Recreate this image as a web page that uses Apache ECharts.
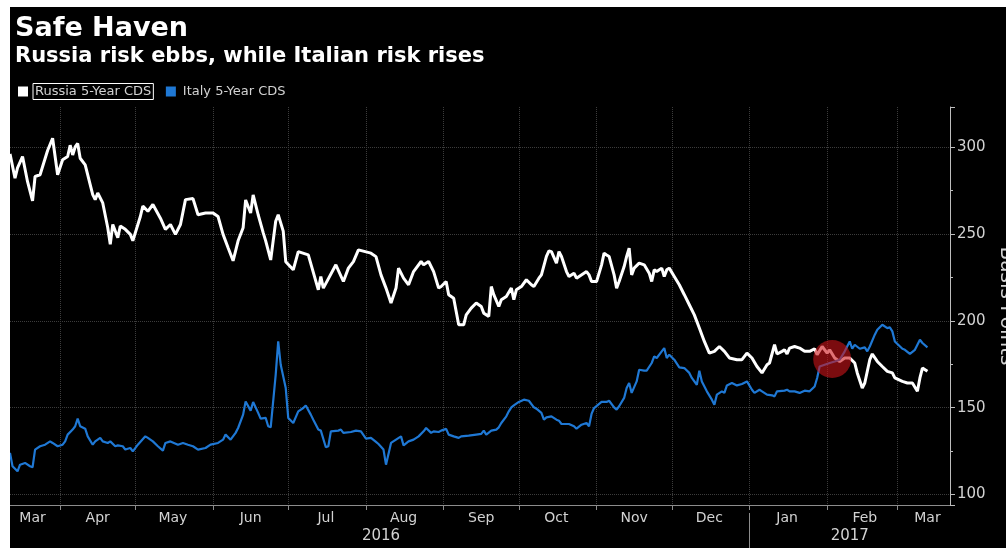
<!DOCTYPE html>
<html>
<head>
<meta charset="utf-8">
<script src="https://cdn.jsdelivr.net/npm/echarts@6/dist/echarts.min.js"></script>
<style>
  html, body { margin: 0; padding: 0; background: #fff; }
  #chart { position: absolute; left: 10px; top: 7px; width: 996px; height: 541px; background: #000; }
</style>
</head>
<body>
<div id="chart"></div>
<script>
// one category per calendar day, first and last day of the visible span
const firstDay = '2016-03-12'
const lastDay = '2017-03-22'

const monthNames = ['Jan', 'Feb', 'Mar', 'Apr', 'May', 'Jun', 'Jul', 'Aug', 'Sep', 'Oct', 'Nov', 'Dec']
// where the month names sit (middle of each visible month)
const monthLabelDays = ['2016-03-21', '2016-04-16', '2016-05-16', '2016-06-16', '2016-07-16', '2016-08-16',
    '2016-09-16', '2016-10-16', '2016-11-16', '2016-12-16', '2017-01-16', '2017-02-16', '2017-03-13']
const yearLabels = ['2016', '2017']
const yearLabelDays = ['2016-08-07', '2017-02-10']
const yearBreakDay = '2017-01-01'

const russia = [
    ['2016-03-12', 296], ['2016-03-14', 282], ['2016-03-15', 288], ['2016-03-17', 294.5], ['2016-03-19', 280],
    ['2016-03-21', 269], ['2016-03-22', 283], ['2016-03-24', 284], ['2016-03-27', 298], ['2016-03-29', 305],
    ['2016-03-31', 284], ['2016-04-02', 292.6], ['2016-04-04', 294.5], ['2016-04-05', 301], ['2016-04-06', 295.4],
    ['2016-04-07', 300], ['2016-04-08', 302], ['2016-04-09', 293.5], ['2016-04-11', 289.7], ['2016-04-14', 272.6],
    ['2016-04-15', 269.7], ['2016-04-16', 273.5], ['2016-04-18', 267.8], ['2016-04-20', 253.5], ['2016-04-21', 244],
    ['2016-04-22', 255.4], ['2016-04-24', 247.8], ['2016-04-25', 254.5], ['2016-04-27', 252.6], ['2016-04-29', 249.7],
    ['2016-04-30', 246], ['2016-05-03', 260], ['2016-05-04', 266], ['2016-05-06', 263], ['2016-05-08', 266.9],
    ['2016-05-11', 259], ['2016-05-13', 252.6], ['2016-05-15', 255.4], ['2016-05-17', 249.7], ['2016-05-19', 255.4],
    ['2016-05-21', 269.7], ['2016-05-24', 270.3], ['2016-05-26', 261], ['2016-05-29', 262], ['2016-06-01', 262],
    ['2016-06-03', 260], ['2016-06-05', 249.7], ['2016-06-07', 242], ['2016-06-09', 234.5], ['2016-06-11', 246],
    ['2016-06-13', 253.5], ['2016-06-14', 269.5], ['2016-06-16', 262], ['2016-06-17', 272.4], ['2016-06-19', 261],
    ['2016-06-21', 250.7], ['2016-06-22', 246], ['2016-06-24', 235], ['2016-06-26', 257.3], ['2016-06-27', 261],
    ['2016-06-29', 251.6], ['2016-06-30', 234], ['2016-07-03', 229.3], ['2016-07-05', 239.8], ['2016-07-09', 237.9],
    ['2016-07-13', 217.8], ['2016-07-14', 225.5], ['2016-07-15', 218.8], ['2016-07-20', 232.2], ['2016-07-23', 222.6],
    ['2016-07-25', 230.3], ['2016-07-27', 234], ['2016-07-29', 240.8], ['2016-08-03', 238.9], ['2016-08-05', 236.9],
    ['2016-08-07', 226.4], ['2016-08-09', 218.8], ['2016-08-11', 210.2], ['2016-08-13', 218.8], ['2016-08-14', 230.3],
    ['2016-08-16', 224.5], ['2016-08-18', 220.7], ['2016-08-20', 228.3], ['2016-08-23', 234.1], ['2016-08-24', 232.2],
    ['2016-08-26', 234.1], ['2016-08-28', 228.3], ['2016-08-30', 218.8], ['2016-08-31', 219.7], ['2016-09-02', 222.6],
    ['2016-09-03', 215], ['2016-09-05', 213], ['2016-09-06', 205.3], ['2016-09-07', 197.7], ['2016-09-09', 197.7],
    ['2016-09-10', 203.4], ['2016-09-12', 207.3], ['2016-09-14', 210.2], ['2016-09-16', 208.2], ['2016-09-17', 204.4],
    ['2016-09-19', 202.5], ['2016-09-20', 219.7], ['2016-09-21', 215], ['2016-09-23', 208.2], ['2016-09-24', 212.1],
    ['2016-09-26', 214], ['2016-09-28', 218.8], ['2016-09-29', 212.1], ['2016-09-30', 217.8], ['2016-10-02', 219.7],
    ['2016-10-04', 223.6], ['2016-10-06', 220.7], ['2016-10-07', 219.7], ['2016-10-09', 224.5], ['2016-10-10', 226.4],
    ['2016-10-12', 237], ['2016-10-13', 240.2], ['2016-10-14', 239.8], ['2016-10-16', 233.2], ['2016-10-17', 239.8],
    ['2016-10-18', 237], ['2016-10-20', 228.3], ['2016-10-21', 225.5], ['2016-10-23', 227.4], ['2016-10-24', 224.5],
    ['2016-10-28', 228.3], ['2016-10-29', 226.4], ['2016-10-30', 222.6], ['2016-11-01', 222.6], ['2016-11-03', 232.2],
    ['2016-11-04', 238.9], ['2016-11-05', 237.9], ['2016-11-06', 237], ['2016-11-08', 226.4], ['2016-11-09', 218.8],
    ['2016-11-10', 222.6], ['2016-11-12', 231.2], ['2016-11-13', 237], ['2016-11-14', 241.8], ['2016-11-15', 226.4],
    ['2016-11-16', 230.3], ['2016-11-18', 233.2], ['2016-11-20', 232.2], ['2016-11-22', 227.4], ['2016-11-23', 222.6],
    ['2016-11-24', 229.3], ['2016-11-25', 228.3], ['2016-11-27', 230.3], ['2016-11-28', 225.5], ['2016-11-29', 229.3],
    ['2016-11-30', 230.3], ['2016-12-02', 225.5], ['2016-12-04', 220.7], ['2016-12-06', 215], ['2016-12-08', 209.2],
    ['2016-12-10', 203.4], ['2016-12-12', 195.8], ['2016-12-14', 188.1], ['2016-12-16', 181.4], ['2016-12-18', 182.4],
    ['2016-12-20', 185.2], ['2016-12-22', 182.4], ['2016-12-24', 178.6], ['2016-12-27', 177.6], ['2016-12-29', 177.6],
    ['2016-12-31', 181.4], ['2017-01-02', 178.6], ['2017-01-04', 173.7], ['2017-01-06', 170], ['2017-01-08', 174.7],
    ['2017-01-09', 175.7], ['2017-01-11', 186.2], ['2017-01-12', 180.9], ['2017-01-14', 182.4], ['2017-01-15', 183.3],
    ['2017-01-16', 180.9], ['2017-01-17', 184.3], ['2017-01-19', 185.2], ['2017-01-21', 184.3], ['2017-01-23', 182.4],
    ['2017-01-25', 182.4], ['2017-01-27', 183.9], ['2017-01-28', 180.5], ['2017-01-30', 185.2], ['2017-02-01', 181.4],
    ['2017-02-02', 183.3], ['2017-02-04', 178.6], ['2017-02-06', 176.6], ['2017-02-08', 178.6], ['2017-02-10', 178.6],
    ['2017-02-12', 175.7], ['2017-02-13', 170], ['2017-02-15', 161.3], ['2017-02-16', 164.2], ['2017-02-18', 177.6],
    ['2017-02-19', 180.9], ['2017-02-21', 176.6], ['2017-02-23', 173.7], ['2017-02-25', 170.9], ['2017-02-27', 170],
    ['2017-02-28', 167.1], ['2017-03-03', 165.1], ['2017-03-05', 164.2], ['2017-03-07', 164.2], ['2017-03-09', 159.4],
    ['2017-03-10', 167.1], ['2017-03-11', 172.8], ['2017-03-13', 170.9]
]

const italy = [
    ['2016-03-12', 124], ['2016-03-13', 116.3], ['2016-03-15', 113.4], ['2016-03-16', 117.2], ['2016-03-18', 118.2],
    ['2016-03-20', 116.3], ['2016-03-21', 115.7], ['2016-03-22', 125.9], ['2016-03-24', 127.8], ['2016-03-26', 128.7],
    ['2016-03-28', 130.6], ['2016-03-29', 129.7], ['2016-03-31', 127.8], ['2016-04-02', 128.7], ['2016-04-03', 130.6],
    ['2016-04-04', 134.5], ['2016-04-06', 137.4], ['2016-04-07', 139.3], ['2016-04-08', 143.7], ['2016-04-09', 139.3],
    ['2016-04-11', 137.9], ['2016-04-12', 133.5], ['2016-04-14', 128.7], ['2016-04-15', 130.6], ['2016-04-17', 132.6],
    ['2016-04-18', 130.6], ['2016-04-20', 129.7], ['2016-04-21', 130.6], ['2016-04-23', 127.8], ['2016-04-24', 128.3],
    ['2016-04-26', 127.8], ['2016-04-27', 125.9], ['2016-04-29', 126.8], ['2016-04-30', 124.9], ['2016-05-02', 128.7],
    ['2016-05-05', 133.5], ['2016-05-06', 132.6], ['2016-05-08', 130.6], ['2016-05-10', 127.8], ['2016-05-12', 125.3],
    ['2016-05-13', 129.7], ['2016-05-15', 130.6], ['2016-05-18', 128.7], ['2016-05-20', 129.7], ['2016-05-22', 128.7],
    ['2016-05-24', 127.8], ['2016-05-26', 125.9], ['2016-05-29', 126.8], ['2016-05-31', 128.7], ['2016-06-03', 129.7],
    ['2016-06-05', 131.6], ['2016-06-06', 134.5], ['2016-06-08', 131.6], ['2016-06-10', 135.5], ['2016-06-11', 138.3],
    ['2016-06-13', 146], ['2016-06-14', 153.6], ['2016-06-16', 148.3], ['2016-06-17', 153.3], ['2016-06-19', 147],
    ['2016-06-20', 143.7], ['2016-06-22', 144.1], ['2016-06-23', 139.3], ['2016-06-24', 138.7], ['2016-06-26', 169],
    ['2016-06-27', 188.1], ['2016-06-28', 174.7], ['2016-06-30', 161.3], ['2016-07-01', 144.1], ['2016-07-03', 141.2],
    ['2016-07-05', 147.9], ['2016-07-07', 149.8], ['2016-07-08', 151.3], ['2016-07-10', 146], ['2016-07-11', 143.1],
    ['2016-07-13', 137.4], ['2016-07-14', 136.8], ['2016-07-16', 127.2], ['2016-07-17', 127.8], ['2016-07-18', 136.4],
    ['2016-07-21', 136.8], ['2016-07-22', 137.4], ['2016-07-23', 135.5], ['2016-07-26', 136], ['2016-07-28', 136.8],
    ['2016-07-30', 136.4], ['2016-08-01', 132.2], ['2016-08-03', 132.6], ['2016-08-05', 130.3], ['2016-08-06', 129.1],
    ['2016-08-08', 125.9], ['2016-08-09', 117.2], ['2016-08-11', 129.7], ['2016-08-13', 131.6], ['2016-08-15', 133.5],
    ['2016-08-16', 128.3], ['2016-08-18', 130.6], ['2016-08-20', 131.6], ['2016-08-22', 133.5], ['2016-08-24', 136.4],
    ['2016-08-25', 138.3], ['2016-08-27', 135.5], ['2016-08-28', 136.4], ['2016-08-30', 136], ['2016-08-31', 136.8],
    ['2016-09-02', 137.8], ['2016-09-03', 134.5], ['2016-09-05', 133.5], ['2016-09-07', 132.6], ['2016-09-08', 133.5],
    ['2016-09-11', 133.9], ['2016-09-14', 134.5], ['2016-09-16', 134.9], ['2016-09-17', 136.8], ['2016-09-18', 134.5],
    ['2016-09-20', 136.8], ['2016-09-22', 137.4], ['2016-09-23', 138.7], ['2016-09-24', 141.2], ['2016-09-26', 145],
    ['2016-09-27', 147.9], ['2016-09-28', 150.2], ['2016-09-29', 151.3], ['2016-10-01', 153.3], ['2016-10-03', 154.6],
    ['2016-10-05', 154], ['2016-10-07', 150.2], ['2016-10-08', 149.4], ['2016-10-10', 147], ['2016-10-11', 143.1],
    ['2016-10-12', 144.4], ['2016-10-14', 145], ['2016-10-16', 143.1], ['2016-10-17', 142.5], ['2016-10-18', 140.6],
    ['2016-10-21', 140.6], ['2016-10-23', 139.3], ['2016-10-24', 137.9], ['2016-10-26', 140.2], ['2016-10-28', 141.2],
    ['2016-10-29', 139.3], ['2016-10-30', 146.4], ['2016-10-31', 149.8], ['2016-11-03', 153.3], ['2016-11-05', 153.3],
    ['2016-11-06', 154], ['2016-11-08', 150.2], ['2016-11-09', 148.9], ['2016-11-10', 150.8], ['2016-11-12', 155.6],
    ['2016-11-13', 161.3], ['2016-11-14', 164.2], ['2016-11-15', 158.5], ['2016-11-17', 165.1], ['2016-11-18', 171.8],
    ['2016-11-20', 171.3], ['2016-11-21', 171.3], ['2016-11-23', 175.7], ['2016-11-24', 179.5], ['2016-11-25', 178.6],
    ['2016-11-27', 182.4], ['2016-11-28', 184.3], ['2016-11-29', 178.6], ['2016-11-30', 180.5], ['2016-12-02', 177.6],
    ['2016-12-04', 173.2], ['2016-12-06', 172.8], ['2016-12-08', 170], ['2016-12-09', 167.1], ['2016-12-11', 163.2],
    ['2016-12-12', 171.3], ['2016-12-13', 165.1], ['2016-12-15', 159.4], ['2016-12-17', 154.6], ['2016-12-18', 151.7],
    ['2016-12-19', 157.5], ['2016-12-21', 159.4], ['2016-12-22', 158.5], ['2016-12-23', 162.8], ['2016-12-25', 164.2],
    ['2016-12-27', 162.8], ['2016-12-29', 163.6], ['2016-12-31', 165.1], ['2017-01-02', 160.3], ['2017-01-03', 158.5],
    ['2017-01-05', 160.3], ['2017-01-06', 159.4], ['2017-01-08', 157.5], ['2017-01-10', 157.1], ['2017-01-11', 156.5],
    ['2017-01-12', 159.4], ['2017-01-15', 159.8], ['2017-01-16', 160.3], ['2017-01-17', 159.4], ['2017-01-19', 159.4],
    ['2017-01-21', 158.5], ['2017-01-23', 159.8], ['2017-01-25', 159.4], ['2017-01-27', 162.2], ['2017-01-28', 167.1],
    ['2017-01-29', 173.7], ['2017-02-02', 175.7], ['2017-02-04', 176.6], ['2017-02-06', 177.6], ['2017-02-08', 182.4],
    ['2017-02-10', 188.1], ['2017-02-11', 183.9], ['2017-02-12', 186.2], ['2017-02-14', 183.9], ['2017-02-16', 184.7],
    ['2017-02-17', 182.4], ['2017-02-18', 185.2], ['2017-02-20', 192], ['2017-02-21', 194.8], ['2017-02-23', 197.7],
    ['2017-02-25', 195.8], ['2017-02-26', 196.2], ['2017-02-27', 193.9], ['2017-02-28', 188.1], ['2017-03-03', 183.9],
    ['2017-03-04', 183.3], ['2017-03-06', 180.9], ['2017-03-08', 183.3], ['2017-03-10', 189.1], ['2017-03-11', 187.2],
    ['2017-03-13', 184.7]
]

// the red highlight where the two lines cross
const crossMark = [['2017-02-03', 178]]

const days = []
for (let d = new Date(firstDay + 'T00:00:00Z'); d <= new Date(lastDay + 'T00:00:00Z'); d.setUTCDate(d.getUTCDate() + 1)) {
    days.push(d.toISOString().slice(0, 10))
}
const isMonthStart = (i, v) => v.slice(8) === '01'

const grey = '#d2d2d2'
const chart = echarts.init(document.getElementById('chart'))
chart.setOption({
    animation: false,
    backgroundColor: '#000',
    textStyle: { fontFamily: 'DejaVu Sans' },
    title: {
        text: 'Safe Haven',
        subtext: 'Russia risk ebbs, while Italian risk rises',
        left: 0,
        top: 3,
        itemGap: 4,
        textStyle: { color: '#fff', fontSize: 27, fontWeight: 'bold' },
        subtextStyle: { color: '#fff', fontSize: 21, fontWeight: 'bold' }
    },
    legend: {
        left: 3,
        top: 71,
        icon: 'rect',
        itemWidth: 10,
        itemHeight: 10,
        itemGap: 12,
        textStyle: { color: grey, fontSize: 13, padding: [2, 2, 1, 2] },
        data: [
            { name: 'Russia 5-Year CDS', textStyle: { borderColor: '#fff', borderWidth: 1 } },
            { name: 'Italy 5-Year CDS' }
        ]
    },
    grid: { left: 0, right: 56, top: 100, bottom: 43, outerBoundsMode: 'none', containLabel: false },
    xAxis: [
        {
            type: 'category',
            data: days,
            boundaryGap: false,
            axisLine: { lineStyle: { color: '#8c8c8c' } },
            axisTick: { interval: isMonthStart, length: 5, lineStyle: { color: '#8c8c8c' } },
            axisLabel: {
                interval: (i, v) => monthLabelDays.includes(v),
                formatter: v => monthNames[+v.slice(5, 7) - 1],
                color: grey,
                fontSize: 14,
                margin: 6
            },
            splitLine: { show: true, interval: isMonthStart, lineStyle: { color: '#3c3c3c', type: 'dotted' } }
        },
        {
            type: 'category',
            data: days,
            boundaryGap: false,
            position: 'bottom',
            offset: 8,
            axisLine: { show: false },
            axisTick: { show: true, interval: (i, v) => v === yearBreakDay, length: 40, lineStyle: { color: '#8c8c8c' } },
            axisLabel: {
                interval: (i, v) => yearLabelDays.includes(v),
                formatter: v => yearLabels[yearLabelDays.indexOf(v)],
                color: grey,
                fontSize: 15,
                margin: 16
            },
            splitLine: { show: false }
        }
    ],
    yAxis: {
        type: 'value',
        position: 'right',
        min: 94,
        max: 323,
        axisLine: { show: true, lineStyle: { color: '#bdbdbd' } },
        axisTick: { show: true, length: 5, lineStyle: { color: '#bdbdbd' } },
        minorTick: { show: true, splitNumber: 2, length: 3, lineStyle: { color: '#bdbdbd' } },
        axisLabel: { color: grey, fontSize: 15, margin: 7, showMinLabel: false, showMaxLabel: false },
        splitLine: { showMinLine: false, showMaxLine: false, lineStyle: { color: '#3c3c3c', type: 'dotted' } },
        name: 'Basis Points',
        nameLocation: 'middle',
        nameRotate: -90,
        nameGap: 41,
        nameTextStyle: { color: grey, fontSize: 20 }
    },
    series: [
        {
            name: 'Russia 5-Year CDS',
            type: 'line',
            data: russia,
            showSymbol: false,
            color: '#ffffff',
            lineStyle: { width: 3, color: '#ffffff' }
        },
        {
            name: 'Italy 5-Year CDS',
            type: 'line',
            data: italy,
            showSymbol: false,
            color: '#1f78d4',
            lineStyle: { width: 2.2, color: '#1f78d4' }
        },
        {
            name: 'cross',
            type: 'scatter',
            data: crossMark,
            symbolSize: 38,
            silent: true,
            z: 5,
            itemStyle: { color: 'rgba(205, 20, 25, 0.75)' }
        }
    ]
})
</script>
</body>
</html>
